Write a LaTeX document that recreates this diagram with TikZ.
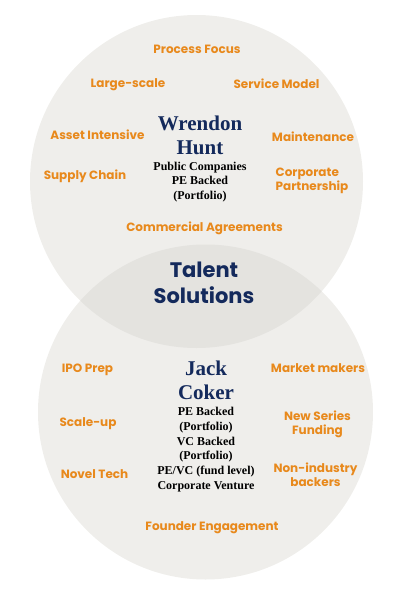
\documentclass[tikz,border=0pt]{standalone}
\usepackage{fontspec}
\setmainfont{Liberation Serif}
\newfontfamily\headfont{Poppins}
\usepackage{xcolor}
\definecolor{circlegrey}{RGB}{239, 238, 235}
\definecolor{overlapgrey}{RGB}{228, 227, 223}
\definecolor{amber}{RGB}{232, 137,  28}
\definecolor{navy}{RGB}{ 20,  42,  92}
\usetikzlibrary{positioning}

\begin{document}
\begin{tikzpicture}[x=1pt, y=-1pt,
  trait/.style={text=amber, align=center, inner sep=0pt,
    font=\headfont\bfseries\fontsize{12}{14.5}\selectfont},
  person/.style={text=navy, align=center, inner sep=0pt,
    font=\bfseries\fontsize{21}{24}\selectfont},
  detail/.style={text=black, align=center, inner sep=0pt,
    font=\bfseries\fontsize{12}{14.7}\selectfont},
  hub/.style={text=navy, align=center, inner sep=0pt,
    font=\headfont\bfseries\fontsize{21}{26}\selectfont}]

  \useasboundingbox (0,0) rectangle (417,598);

  % the two circles and their overlap
  \coordinate (top) at (196.5,181.5);
  \coordinate (bot) at (205.5,412);
  \fill[circlegrey] (top) circle (166.5pt);
  \fill[circlegrey] (bot) circle (167.5pt);
  \begin{scope}
    \clip (top) circle (166.5pt);
    \fill[overlapgrey] (bot) circle (167.5pt);
  \end{scope}

  % upper circle
  \node[person] (wh) at (200,135) {Wrendon\\Hunt};
  \node[detail] (whd) at (200,182) {Public Companies\\PE Backed\\(Portfolio)};

  \node[trait] (pf) at (197,49) {Process Focus};
  \node[trait] (ls) at (128,85) {Large-scale};
  \node[trait] (sm) at (276.5,84) {Service Model};
  \node[trait] (ai) at (97.5,135) {Asset Intensive};
  \node[trait] (mt) at (313,137) {Maintenance};
  \node[trait] (sc) at (85,176) {Supply Chain};
  \node[trait, align=left] (cp) at (312,181) {Corporate\\Partnership};
  \node[trait] (ca) at (204.5,228) {Commercial Agreements};

  % overlap
  \node[hub] (ts) at (204,283) {Talent\\Solutions};

  % lower circle
  \node[person] (jc) at (206,380.5) {Jack\\Coker};
  \node[detail] (jcd) at (206,449.5) {PE Backed\\(Portfolio)\\VC Backed\\(Portfolio)\\PE/VC (fund level)\\Corporate Venture};

  \node[trait] (ip) at (87.5,370) {IPO Prep};
  \node[trait] (mm) at (318,368) {Market makers};
  \node[trait] (su) at (88,424) {Scale-up};
  \node[trait] (ns) at (317.5,424.5) {New Series\\Funding};
  \node[trait] (nt) at (94.5,474) {Novel Tech};
  \node[trait] (ni) at (315.5,474.5) {Non-industry\\backers};
  \node[trait] (fe) at (212,528) {Founder Engagement};

\end{tikzpicture}
\end{document}
